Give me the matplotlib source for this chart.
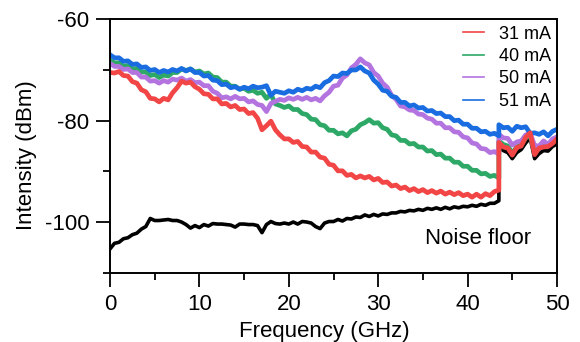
import numpy as np
import matplotlib
matplotlib.use('Agg')
import matplotlib.pyplot as plt
from matplotlib.ticker import MultipleLocator

plt.rcParams['font.family'] = ['Liberation Sans', 'DejaVu Sans']
plt.rcParams['axes.unicode_minus'] = False

# frequency grid (GHz): 0..43.5 before the analyser step, 43.5..50 after it
freq_lo = np.arange(0, 43.75, 0.5)
freq_hi = np.arange(43.5, 50.25, 0.5)

# intensity (dBm), one row = 4 GHz
i31_lo = [-70.5, -70.6, -70.3, -71.1, -71.2, -72.3, -72.6, -73.9,
          -74.3, -75.6, -75.7, -76.3, -75.6, -75.9, -74.5, -73.5,
          -72.2, -72.6, -72.4, -73.3, -73.8, -74.7, -74.8, -75.7,
          -75.7, -76.7, -76.6, -77.3, -77.0, -77.8, -77.7, -78.6,
          -78.4, -79.5, -81.8, -81.0, -80.1, -81.8, -82.8, -83.6,
          -83.6, -84.3, -84.1, -85.1, -85.2, -86.2, -86.2, -87.2,
          -87.4, -88.6, -88.8, -89.9, -89.9, -90.8, -90.6, -91.3,
          -90.9, -91.3, -91.0, -91.7, -91.4, -92.2, -92.1, -92.9,
          -92.7, -93.4, -93.1, -93.8, -93.4, -94.0, -93.6, -94.2,
          -93.8, -94.3, -93.9, -94.5, -94.1, -94.6, -94.2, -94.8,
          -94.5, -95.1, -94.5, -95.1, -94.4, -94.8, -94.0, -93.7]
i31_hi = [-84.3, -85.2, -85.4, -86.8, -85.3, -85.0, -83.3, -82.4,
          -86.7, -85.4, -85.2, -85.1, -84.5, -83.6]

i40_lo = [-68.1, -68.6, -68.6, -69.3, -69.1, -69.8, -69.7, -70.4,
          -70.4, -71.1, -70.9, -71.5, -71.0, -71.2, -70.5, -70.5,
          -69.8, -70.1, -69.8, -70.4, -70.2, -70.8, -70.6, -71.4,
          -71.5, -72.4, -72.4, -73.2, -73.2, -73.8, -73.6, -74.2,
          -74.0, -74.6, -74.4, -75.6, -74.8, -76.7, -77.0, -77.4,
          -77.1, -77.8, -77.8, -78.6, -78.8, -79.7, -79.8, -80.8,
          -81.0, -81.9, -81.9, -82.6, -82.4, -83.0, -82.0, -81.7,
          -80.8, -80.4, -79.8, -80.5, -80.4, -81.4, -81.7, -82.8,
          -83.0, -83.9, -83.9, -84.6, -84.5, -85.2, -85.2, -86.0,
          -85.9, -86.7, -86.6, -87.4, -87.4, -88.2, -88.2, -89.0,
          -89.0, -89.8, -89.8, -90.5, -90.4, -91.0, -90.8, -91.3]
i40_hi = [-84.0, -84.7, -85.0, -86.4, -85.2, -84.8, -83.4, -82.9,
          -86.3, -85.2, -85.0, -84.8, -84.2, -83.5]

i50_lo = [-68.7, -69.3, -69.3, -69.9, -69.8, -70.5, -70.5, -71.4,
          -71.4, -72.2, -72.1, -72.6, -72.1, -72.4, -71.8, -72.0,
          -71.6, -72.2, -71.9, -72.5, -72.4, -73.1, -73.1, -74.2,
          -74.6, -75.5, -75.3, -75.7, -75.2, -75.7, -75.6, -76.3,
          -76.1, -76.8, -77.0, -78.2, -76.6, -76.2, -75.8, -76.0,
          -75.5, -75.8, -75.4, -75.8, -75.4, -75.9, -75.6, -76.1,
          -75.1, -74.4, -73.2, -73.0, -71.6, -71.0, -69.6, -68.9,
          -67.8, -68.6, -69.0, -70.5, -71.2, -72.6, -73.4, -75.0,
          -75.8, -77.1, -77.3, -77.9, -78.0, -78.7, -78.8, -79.5,
          -79.7, -80.5, -80.5, -81.4, -81.4, -82.2, -82.3, -83.2,
          -83.4, -84.4, -84.6, -85.5, -85.6, -86.3, -86.1, -86.6]
i50_hi = [-82.7, -83.4, -83.5, -84.8, -84.2, -84.0, -82.8, -82.5,
          -84.9, -85.0, -84.0, -84.7, -83.6, -83.2]

i51_lo = [-67.0, -67.6, -67.6, -68.3, -68.2, -68.9, -68.8, -69.5,
          -69.4, -70.1, -69.9, -70.5, -70.1, -70.4, -69.9, -70.2,
          -69.7, -70.2, -69.8, -70.5, -70.5, -71.2, -71.1, -72.0,
          -72.1, -72.9, -72.8, -73.5, -73.3, -73.8, -73.4, -73.7,
          -73.2, -73.5, -73.4, -73.1, -75.0, -74.2, -74.4, -74.6,
          -74.1, -74.4, -73.8, -74.1, -73.6, -73.8, -73.2, -73.5,
          -72.5, -72.1, -71.2, -71.3, -70.6, -70.7, -70.0, -70.0,
          -69.4, -70.2, -70.6, -72.0, -72.8, -74.0, -74.2, -75.2,
          -75.4, -76.4, -76.4, -77.1, -76.9, -77.5, -77.4, -78.1,
          -78.0, -78.6, -78.5, -79.2, -79.2, -80.0, -79.9, -80.7,
          -80.7, -81.5, -81.5, -82.2, -82.1, -82.7, -82.5, -83.0]
i51_hi = [-80.8, -81.4, -81.3, -82.1, -81.1, -81.4, -81.2, -82.5,
          -82.4, -82.7, -82.2, -83.0, -82.1, -81.7]

noise_lo = [-105.3, -104.2, -104.0, -103.3, -103.1, -102.5, -102.2, -101.4,
            -100.9, -99.3, -99.7, -99.7, -99.6, -99.5, -99.7, -99.7,
            -100.0, -100.5, -101.2, -100.7, -101.1, -100.5, -100.8, -100.3,
            -100.4, -100.4, -100.5, -100.6, -101.0, -100.4, -100.4, -100.5,
            -100.5, -100.7, -102.1, -100.5, -99.9, -100.3, -100.4, -100.2,
            -100.4, -100.0, -100.4, -99.9, -100.0, -100.2, -100.9, -101.3,
            -100.2, -99.9, -99.9, -99.5, -99.8, -99.3, -99.4, -99.0,
            -99.1, -98.6, -98.9, -98.5, -98.8, -98.4, -98.5, -98.2,
            -98.2, -97.9, -98.0, -97.7, -97.8, -97.5, -97.7, -97.3,
            -97.5, -97.2, -97.5, -97.1, -97.4, -97.0, -97.2, -96.9,
            -97.0, -96.7, -96.9, -96.5, -96.7, -96.3, -96.3, -95.8]
noise_hi = [-85.3, -85.9, -86.3, -87.5, -86.3, -85.7, -84.4, -83.4,
            -87.5, -86.5, -85.9, -86.0, -85.1, -84.6]

labels = ['31 mA', '40 mA', '50 mA', '51 mA']
colors = ['#f24545', '#2ea866', '#b474e0', '#1a6de0']

freq = np.concatenate([freq_lo, freq_hi])
def join(lo, hi):
    return np.concatenate([lo, hi])

fig = plt.figure(figsize=(5.8, 3.42), dpi=100)
ax = fig.add_axes([0.1897, 0.2026, 0.7706, 0.741])

ax.plot(freq, join(noise_lo, noise_hi), color='black', lw=2.6)
l40, = ax.plot(freq, join(i40_lo, i40_hi), color=colors[1], lw=3.4)
l50, = ax.plot(freq, join(i50_lo, i50_hi), color=colors[2], lw=3.4)
l51, = ax.plot(freq, join(i51_lo, i51_hi), color=colors[3], lw=3.4)
l31, = ax.plot(freq, join(i31_lo, i31_hi), color=colors[0], lw=3.4)

ax.set_xlim(0, 50)
ax.set_ylim(-110, -60)
ax.xaxis.set_major_locator(MultipleLocator(10))
ax.xaxis.set_minor_locator(MultipleLocator(5))
ax.yaxis.set_major_locator(MultipleLocator(20))
ax.yaxis.set_minor_locator(MultipleLocator(10))
ax.tick_params(which='major', length=10, width=1.3, labelsize=16, pad=5)
ax.tick_params(which='minor', length=5, width=1.3)
for s in ax.spines.values():
    s.set_linewidth(1.4)

ax.text(41.2, -103.2, 'Noise floor', fontsize=16, ha='center', va='center')

leg = ax.legend([l31, l40, l50, l51], labels, loc='upper right',
                bbox_to_anchor=(1.0, 1.0), frameon=False, fontsize=13,
                handlelength=1.17, handletextpad=0.78, labelspacing=0.3,
                borderaxespad=0.15, borderpad=0.2)
for h in leg.get_lines():
    h.set_linewidth(1.2)

fig.text(324 / 580, 1 - 336.5 / 342, 'Frequency (GHz)', fontsize=16,
         ha='center', va='baseline')
fig.text(27 / 580, 1 - 155 / 342, 'Intensity (dBm)', fontsize=16,
         ha='center', va='center', rotation=90)

fig.savefig('out.png', dpi=100)
